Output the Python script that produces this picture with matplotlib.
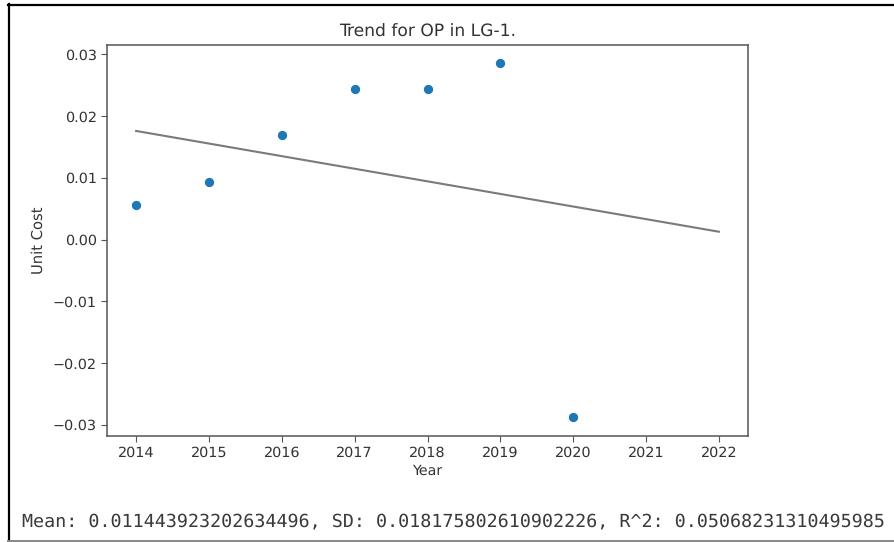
import numpy as np
import matplotlib
matplotlib.use("Agg")
import matplotlib.pyplot as plt
from matplotlib.lines import Line2D

plt.rcParams["text.hinting"] = "no_hinting"

# Unit cost of OP in LG-1 by year
years = [2014, 2015, 2016, 2017, 2018, 2019, 2020]
unit_cost = [0.00561, 0.00926, 0.01691, 0.02435, 0.02435, 0.02855, -0.02876]
trend_years = [2014, 2022]
x_ticks = [2014, 2015, 2016, 2017, 2018, 2019, 2020, 2021, 2022]
y_ticks = [-0.03, -0.02, -0.01, 0.00, 0.01, 0.02, 0.03]
stats_text = "Mean: 0.011443923202634496, SD: 0.018175802610902226, R^2: 0.05068231310495985"

W, H = 894, 542
fig = plt.figure(figsize=(W / 100, H / 100), dpi=100)
fig.patch.set_facecolor("white")

ax = fig.add_axes([107 / W, 1 - 436 / H, (748 - 107) / W, (436 - 45) / H])

# Least-squares trend line over the observed years, extended to 2022
slope, intercept = np.polyfit(years, unit_cost, 1)
tx = np.array(trend_years, dtype=float)
ax.plot(tx, slope * tx + intercept, color="#7a7a7a", linewidth=1.5, zorder=2)

ax.scatter(years, unit_cost, s=56, color="#1f77b4", edgecolors="white",
           linewidths=0.75, zorder=3)

ax.set_xlim(2013.6, 2022.4)
ax.set_ylim(-0.0318, 0.0315)
ax.set_xticks(x_ticks)
ax.set_yticks(y_ticks)
ax.set_yticklabels([f"{v:.2f}".replace("-", "\u2212") for v in y_ticks])

text_color = "#333333"
for s in ax.spines.values():
    s.set_color("#555555")
    s.set_linewidth(1.1)
ax.tick_params(colors="#555555", labelcolor=text_color, labelsize=10.4, length=4)

ax.set_title("Trend for OP in LG-1.", fontsize=12.3, color=text_color, pad=6)
ax.set_xlabel("Year", fontsize=10.3, color=text_color, labelpad=3)
ax.set_ylabel("Unit Cost", fontsize=10.6, color=text_color, labelpad=5)

fig.text(22 / W, 1 - 521 / H, stats_text, fontsize=13.2, family="DejaVu Sans Mono",
         color="#3a3a3a", ha="left", va="center")

# Outer frame lines
fig.add_artist(Line2D([8.5 / W, 8.5 / W], [1 - 541 / H, 1 - 4 / H],
                      transform=fig.transFigure, color="black", linewidth=1.6))
fig.add_artist(Line2D([8 / W, 1.0], [1 - 4.5 / H, 1 - 4.5 / H],
                      transform=fig.transFigure, color="black", linewidth=1.6))
fig.add_artist(Line2D([8 / W, 1.0], [1 - 541 / H, 1 - 541 / H],
                      transform=fig.transFigure, color="#888888", linewidth=1.4))

fig.savefig("out.png", dpi=100, facecolor="white")
